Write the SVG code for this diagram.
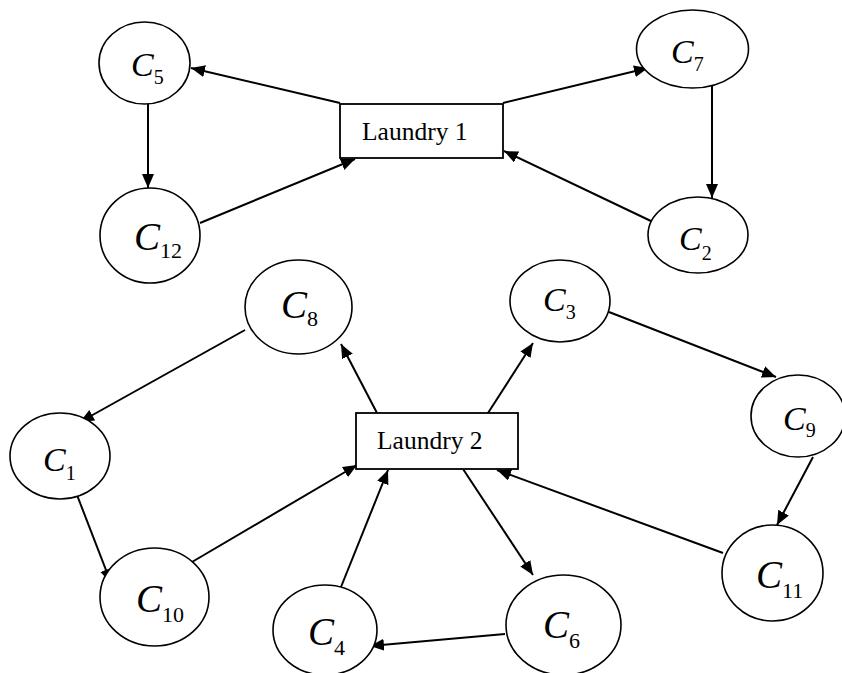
<svg xmlns="http://www.w3.org/2000/svg" width="842" height="673" viewBox="0 0 842 673">
<style>
  .node ellipse { fill: #fff; stroke: #000; stroke-width: 1.6; }
  .box rect { fill: #fff; stroke: #000; stroke-width: 1.8; }
  .box text { font-family: "Liberation Serif", "Times New Roman", serif; font-size: 25.5px; fill: #000; }
  .lbl { font-family: "Liberation Serif", "Times New Roman", serif; fill: #000; }
  .lbl .c { font-style: italic; }
  .sm { font-size: 34px; }
  .sm .s { font-size: 20px; }
  .bg { font-size: 39px; }
  .bg .s { font-size: 22px; }
  .edges line { stroke: #000; stroke-width: 2; marker-end: url(#arr); }
</style>
<defs>
  <marker id="arr" markerUnits="userSpaceOnUse" markerWidth="15" markerHeight="13" refX="14" refY="6" orient="auto">
    <path d="M0,0 L14,6 L0,12 z" fill="#000"/>
  </marker>
</defs>
<rect width="842" height="673" fill="#fff"/>

<g id="connectors" class="edges">
  <line x1="340" y1="103" x2="191" y2="68"/>
  <line x1="148" y1="99" x2="148" y2="188"/>
  <line x1="200" y1="223" x2="355" y2="159"/>
  <line x1="503" y1="103" x2="648" y2="68"/>
  <line x1="712" y1="80" x2="712" y2="198"/>
  <line x1="653" y1="222" x2="504" y2="151"/>
  <line x1="245" y1="330" x2="80" y2="422"/>
  <line x1="77" y1="495" x2="111" y2="583"/>
  <line x1="192" y1="562" x2="357" y2="465"/>
  <line x1="377" y1="413" x2="341" y2="344"/>
  <line x1="341" y1="587" x2="388" y2="470"/>
  <line x1="505" y1="634" x2="370" y2="646"/>
  <line x1="488" y1="413" x2="533" y2="343"/>
  <line x1="609" y1="312" x2="776" y2="377"/>
  <line x1="813" y1="457" x2="777" y2="525"/>
  <line x1="723" y1="553" x2="497" y2="470"/>
  <line x1="463" y1="469" x2="533" y2="575"/>
</g>

<g id="laundry1" class="box">
  <rect x="340" y="104" width="163" height="54"/>
  <text x="362" y="140">Laundry 1</text>
</g>
<g id="laundry2" class="box">
  <rect x="356" y="413" width="162" height="56"/>
  <text x="377" y="449">Laundry 2</text>
</g>

<g id="C5" class="node">
  <ellipse cx="144.5" cy="63" rx="45.5" ry="41"/>
  <text class="lbl sm" x="131" y="76"><tspan class="c">C</tspan><tspan class="s" dy="8">5</tspan></text>
</g>
<g id="C7" class="node">
  <ellipse cx="692.5" cy="49" rx="56" ry="39"/>
  <text class="lbl sm" x="671" y="63"><tspan class="c">C</tspan><tspan class="s" dy="8">7</tspan></text>
</g>
<g id="C12" class="node">
  <ellipse cx="150" cy="235.5" rx="50" ry="47.5"/>
  <text class="lbl bg" x="134" y="250"><tspan class="c">C</tspan><tspan class="s" dy="8">12</tspan></text>
</g>
<g id="C2" class="node">
  <ellipse cx="698" cy="235" rx="50" ry="38"/>
  <text class="lbl sm" x="679" y="250"><tspan class="c">C</tspan><tspan class="s" dy="10">2</tspan></text>
</g>
<g id="C8" class="node">
  <ellipse cx="298.5" cy="307" rx="53.5" ry="47"/>
  <text class="lbl bg" x="281" y="318"><tspan class="c">C</tspan><tspan class="s" dy="8">8</tspan></text>
</g>
<g id="C3" class="node">
  <ellipse cx="560" cy="301" rx="50" ry="41"/>
  <text class="lbl sm" x="543" y="311"><tspan class="c">C</tspan><tspan class="s" dy="8">3</tspan></text>
</g>
<g id="C1" class="node">
  <ellipse cx="60" cy="456" rx="50" ry="43"/>
  <text class="lbl sm" x="43" y="471"><tspan class="c">C</tspan><tspan class="s" dy="9">1</tspan></text>
</g>
<g id="C9" class="node">
  <ellipse cx="798" cy="416" rx="47" ry="41"/>
  <text class="lbl sm" x="783" y="430"><tspan class="c">C</tspan><tspan class="s" dy="7">9</tspan></text>
</g>
<g id="C10" class="node">
  <ellipse cx="154.5" cy="597" rx="54.5" ry="49"/>
  <text class="lbl bg" x="136" y="612"><tspan class="c">C</tspan><tspan class="s" dy="10">10</tspan></text>
</g>
<g id="C11" class="node">
  <ellipse cx="772.5" cy="573" rx="50.5" ry="48"/>
  <text class="lbl bg" x="756" y="588"><tspan class="c">C</tspan><tspan class="s" dy="10">11</tspan></text>
</g>
<g id="C4" class="node">
  <ellipse cx="325" cy="630" rx="52" ry="45"/>
  <text class="lbl bg" x="308" y="645"><tspan class="c">C</tspan><tspan class="s" dy="10">4</tspan></text>
</g>
<g id="C6" class="node">
  <ellipse cx="563.5" cy="625" rx="57.5" ry="50"/>
  <text class="lbl bg" x="543" y="638"><tspan class="c">C</tspan><tspan class="s" dy="10">6</tspan></text>
</g>
</svg>
